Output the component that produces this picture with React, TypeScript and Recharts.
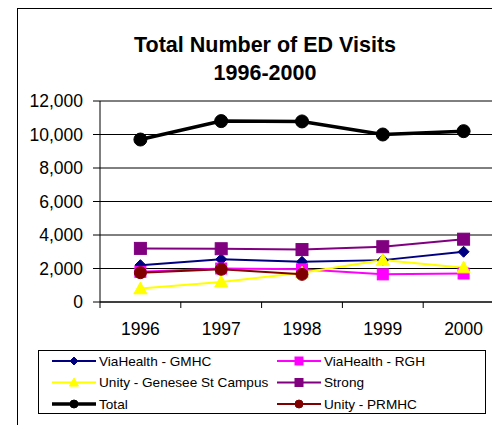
import React from "react";
import { LineChart, Line, XAxis, YAxis, CartesianGrid } from "recharts";

const years = ["1996", "1997", "1998", "1999", "2000"];
const gmhc = [2200, 2550, 2400, 2500, 3000];
const rgh = [1800, 2000, 1950, 1650, 1700];
const genesee = [800, 1200, 1750, 2500, 2050];
const strong = [3200, 3180, 3130, 3300, 3750];
const total = [9700, 10800, 10780, 10000, 10200];
const prmhc: (number | null)[] = [1750, 1950, 1650, null, null];
const yTicks = [0, 2000, 4000, 6000, 8000, 10000, 12000];
// category centres (1..5) carry the year labels, the half steps carry the tick marks
const xTicks = [0.5, 1, 1.5, 2, 2.5, 3, 3.5, 4, 4.5, 5, 5.5];

type Shape = "diamond" | "square" | "triangle" | "circle";
interface Series {
  key: string;
  name: string;
  color: string;
  shape: Shape;
  width: number;
  size: number;
  values: (number | null)[];
}

const series: Series[] = [
  { key: "gmhc", name: "ViaHealth - GMHC", color: "#000080", shape: "diamond", width: 2, size: 5.5, values: gmhc },
  { key: "rgh", name: "ViaHealth - RGH", color: "#FF00FF", shape: "square", width: 2, size: 5.5, values: rgh },
  { key: "genesee", name: "Unity - Genesee St Campus", color: "#FFFF00", shape: "triangle", width: 2, size: 6.5, values: genesee },
  { key: "strong", name: "Strong", color: "#800080", shape: "square", width: 2, size: 6, values: strong },
  { key: "total", name: "Total", color: "#000000", shape: "circle", width: 3.5, size: 6.5, values: total },
  { key: "prmhc", name: "Unity - PRMHC", color: "#800000", shape: "circle", width: 2, size: 6, values: prmhc },
];

const data = years.map((label, i) => {
  const row: Record<string, any> = { x: i + 1, label };
  series.forEach((s) => {
    row[s.key] = s.values[i];
  });
  return row;
});

const FONT = "'Liberation Sans', Arial, Helvetica, sans-serif";

function Marker({ shape, cx, cy, r, color }: { shape: Shape; cx: number; cy: number; r: number; color: string }) {
  if (shape === "diamond") {
    return <polygon points={`${cx},${cy - r} ${cx + r},${cy} ${cx},${cy + r} ${cx - r},${cy}`} fill={color} stroke={color} strokeWidth={1} />;
  }
  if (shape === "square") {
    return <rect x={cx - r} y={cy - r} width={2 * r} height={2 * r} fill={color} stroke={color} strokeWidth={1} />;
  }
  if (shape === "triangle") {
    return <polygon points={`${cx},${cy - r} ${cx + r},${cy + r * 0.8} ${cx - r},${cy + r * 0.8}`} fill={color} stroke={color} strokeWidth={1} />;
  }
  return <circle cx={cx} cy={cy} r={r} fill={color} stroke={color} strokeWidth={1} />;
}

function XTick(props: any) {
  const { x, y, payload } = props;
  const v = payload.value as number;
  if (Number.isInteger(v)) {
    return (
      <text x={x} y={y + 21} dy="0.71em" textAnchor="middle" fontSize={17.5} fontFamily={FONT} fill="#000">
        {years[v - 1]}
      </text>
    );
  }
  return <line x1={x} x2={x} y1={y} y2={y + 6} stroke="#000" strokeWidth={1} />;
}

function Legend() {
  const rowH = 21.5;
  const cols = [14, 239];
  return (
    <svg width={448} height={64} style={{ position: "absolute", left: 30, top: 342 }}>
      <rect x={0.5} y={0.5} width={447} height={63} fill="#fff" stroke="#000" strokeWidth={1} />
      {series.map((s, i) => {
        const col = i % 2;
        const row = Math.floor(i / 2);
        const y = 11 + row * rowH;
        const x0 = cols[col];
        return (
          <g key={s.key}>
            <line x1={x0} x2={x0 + 44} y1={y} y2={y} stroke={s.color} strokeWidth={s.width} />
            <Marker shape={s.shape} cx={x0 + 22} cy={y} r={s.shape === "triangle" ? 4.5 : 4} color={s.color} />
            <text x={x0 + 47} y={y} dy="0.36em" fontSize={13.6} fontFamily={FONT} fill="#000">
              {s.name}
            </text>
          </g>
        );
      })}
    </svg>
  );
}

export default function App() {
  return (
    <div style={{ position: "relative", width: 492, height: 417, overflow: "hidden", background: "#fff" }}>
      <div style={{ position: "absolute", left: 9, top: 0, width: 600, height: 500, border: "1px solid #000", boxSizing: "border-box" }} />
      <svg width={492} height={90} style={{ position: "absolute", left: 0, top: 0 }}>
        <text x={257} y={44} textAnchor="middle" fontSize={21.5} fontWeight="bold" fontFamily={FONT} fill="#000">
          Total Number of ED Visits
        </text>
        <text x={257} y={72} textAnchor="middle" fontSize={21.5} fontWeight="bold" fontFamily={FONT} fill="#000">
          1996-2000
        </text>
      </svg>
      <div style={{ position: "absolute", left: 0, top: 0 }}>
        <LineChart width={520} height={420} data={data} margin={{ top: 93, right: 24, bottom: 0, left: 0 }}>
          <CartesianGrid horizontal vertical={false} stroke="#000" strokeWidth={1} />
          <XAxis
            dataKey="x"
            type="number"
            domain={[0.5, 5.5]}
            allowDataOverflow
            ticks={xTicks}
            interval={0}
            axisLine={{ stroke: "#000", strokeWidth: 1 }}
            tickLine={false}
            tickSize={0}
            tickMargin={0}
            height={126}
            tick={<XTick />}
          />
          <YAxis
            type="number"
            domain={[0, 12000]}
            ticks={yTicks}
            interval={0}
            width={92}
            tickSize={7}
            tickMargin={10}
            tickFormatter={(v: number) => v.toLocaleString("en-US")}
            axisLine={{ stroke: "#000", strokeWidth: 1 }}
            tickLine={{ stroke: "#000", strokeWidth: 1 }}
            tick={{ fill: "#000", fontSize: 17.5, fontFamily: FONT }}
          />
          {series.map((s) => (
            <Line
              key={s.key}
              dataKey={s.key}
              name={s.name}
              stroke={s.color}
              strokeWidth={s.width}
              isAnimationActive={false}
              connectNulls={false}
              dot={(p: any) => {
                if (p.cx == null || p.cy == null || p.value == null) return <g key={`${s.key}-${p.index}`} />;
                return (
                  <g key={`${s.key}-${p.index}`}>
                    <Marker shape={s.shape} cx={p.cx} cy={p.cy} r={s.size} color={s.color} />
                  </g>
                );
              }}
              activeDot={false}
            />
          ))}
        </LineChart>
      </div>
      <Legend />
    </div>
  );
}
